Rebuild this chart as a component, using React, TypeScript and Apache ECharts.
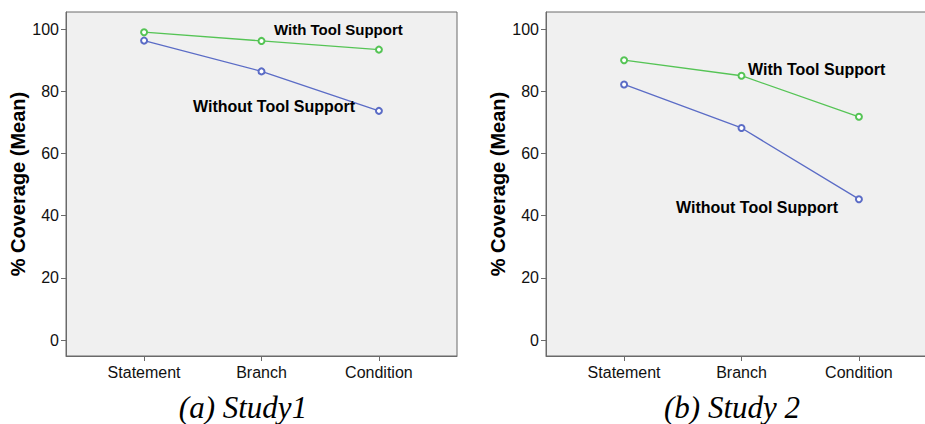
import React, { useEffect, useRef } from "react";
import * as echarts from "echarts";

const categories = ["Statement", "Branch", "Condition"];
const yTicks = [0, 20, 40, 60, 80, 100];

const study1With = [99.0, 96.2, 93.4];
const study1Without = [96.3, 86.4, 73.7];
const study2With = [90.0, 85.0, 71.8];
const study2Without = [82.2, 68.2, 45.3];

const seriesLabels = ["With Tool Support", "Without Tool Support"];
const captions = ["(a) Study1", "(b) Study 2"];
const yTitle = "% Coverage (Mean)";

const GREEN = "#55c455";
const BLUE = "#5b6cc6";
const FRAME = "#6a6a6a";
const SANS = "Liberation Sans, Arial, sans-serif";

const pts = (vals: number[]) => vals.map((v, i) => [i, v]);

export default function App() {
  const ref = useRef<HTMLDivElement>(null);
  useEffect(() => {
    if (!ref.current) return;
    const chart = echarts.init(ref.current, undefined, { renderer: "svg" });
    const grids = [
      { left: 66, top: 12, width: 391, height: 344 },
      { left: 546, top: 12, width: 391, height: 344 },
    ].map((g) => ({
      ...g,
      show: true,
      backgroundColor: "#f0f0f0",
      borderColor: FRAME,
      borderWidth: 1,
      containLabel: false,
      outerBoundsMode: "none",
    }));
    const xAxes = [0, 1].map((gi) => ({
      type: "value",
      gridIndex: gi,
      min: -0.665,
      max: 2.665,
      splitLine: { show: false },
      axisLine: { show: true, onZero: false, lineStyle: { color: FRAME } },
      axisTick: {
        show: true,
        customValues: [0, 1, 2],
        length: 5,
        lineStyle: { color: FRAME },
      },
      axisLabel: {
        customValues: [0, 1, 2],
        formatter: (v: number) => categories[Math.round(v)] ?? "",
        color: "#111",
        fontFamily: SANS,
        fontSize: 16,
        margin: 8,
      },
    }));
    const yAxes = [0, 1].map((gi) => ({
      type: "value",
      gridIndex: gi,
      min: -5.14,
      max: 105.5,
      splitLine: { show: false },
      axisLine: { show: true, onZero: false, lineStyle: { color: FRAME } },
      axisTick: {
        show: true,
        customValues: yTicks,
        length: 5,
        lineStyle: { color: FRAME },
      },
      axisLabel: {
        customValues: yTicks,
        color: "#111",
        fontFamily: SANS,
        fontSize: 16,
        margin: 7,
      },
      name: yTitle,
      nameLocation: "middle",
      nameRotate: 90,
      nameGap: 36,
      nameTextStyle: {
        fontFamily: SANS,
        fontSize: 20,
        fontWeight: "bold",
        color: "#000",
      },
    }));
    const mk = (data: number[], gi: number, color: string, name: string) => ({
      type: "line",
      name,
      xAxisIndex: gi,
      yAxisIndex: gi,
      data: pts(data),
      symbol: "emptyCircle",
      symbolSize: 6,
      lineStyle: { color, width: 1.3 },
      itemStyle: { color, borderColor: color, borderWidth: 1 },
      z: color === GREEN ? 3 : 2,
    });
    const label = (text: string, x: number, y: number, size: number) => ({
      type: "text",
      x,
      y,
      style: {
        text,
        fill: "#000",
        font: `bold ${size}px ${SANS}`,
        textAlign: "left",
        textVerticalAlign: "middle",
      },
      z: 10,
    });
    const caption = (text: string, x: number) => ({
      type: "text",
      x,
      y: 407,
      style: {
        text,
        fill: "#000",
        font: `italic 31px "Liberation Serif", "Times New Roman", serif`,
        textAlign: "center",
        textVerticalAlign: "middle",
      },
    });
    chart.setOption({
      animation: false,
      grid: grids,
      xAxis: xAxes,
      yAxis: yAxes,
      series: [
        mk(study1With, 0, GREEN, seriesLabels[0]),
        mk(study1Without, 0, BLUE, seriesLabels[1]),
        mk(study2With, 1, GREEN, seriesLabels[0]),
        mk(study2Without, 1, BLUE, seriesLabels[1]),
      ],
      graphic: [
        label(seriesLabels[0], 274, 29, 15),
        label(seriesLabels[1], 193, 106, 16),
        label(seriesLabels[0], 748, 69, 16),
        label(seriesLabels[1], 676, 207, 16),
        caption(captions[0], 243),
        caption(captions[1], 732),
      ],
    });
    return () => chart.dispose();
  }, []);
  return (
    <div
      ref={ref}
      style={{ position: "absolute", left: 0, top: 0, width: 925, height: 424 }}
    />
  );
}
